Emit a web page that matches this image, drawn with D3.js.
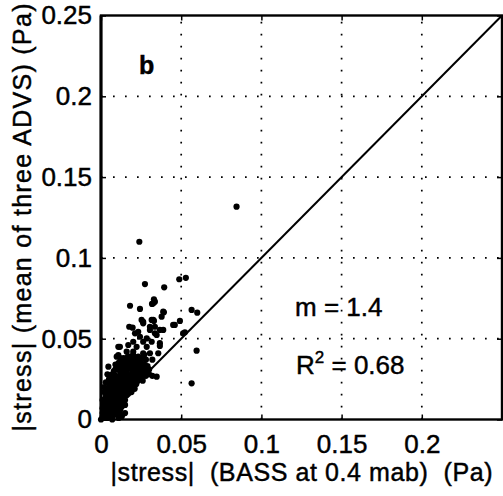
<!DOCTYPE html>
<html>
<head>
<meta charset="utf-8">
<script src="https://cdn.jsdelivr.net/npm/d3@7"></script>
<style>
  body { margin: 0; background: #fff; }
  svg { display: block; font-family: "Liberation Sans", Arial, sans-serif; }
  text { fill: #000; stroke: #000; stroke-width: 0.45px; }
</style>
</head>
<body>
<svg id="chart" width="503" height="496"></svg>
<script>
// tick values + labels
var xTicks = [0, 0.05, 0.1, 0.15, 0.2];
var xTickLabels = ["0", "0.05", "0.1", "0.15", "0.2"];
var yTicks = [0, 0.05, 0.1, 0.15, 0.2, 0.25];
var yTickLabels = ["0", "0.05", "0.1", "0.15", "0.2", "0.25"];
var gridValues = [0.05, 0.1, 0.15, 0.2];

// |stress| BASS (x) vs mean of three ADVs (y)
var outerPoints = [
  [0.0845, 0.1317], [0.0239, 0.110], [0.0488, 0.0868], [0.0529, 0.0877], [0.0274, 0.0838],
  [0.0394, 0.0818], [0.033, 0.0744], [0.0181, 0.0704], [0.0243, 0.0684], [0.0318, 0.0715],
  [0.0392, 0.0663], [0.0565, 0.0678], [0.060, 0.0661], [0.0263, 0.0605], [0.033, 0.061],
  [0.0492, 0.061], [0.046, 0.0585], [0.0367, 0.0554], [0.0197, 0.0568], [0.0523, 0.054],
  [0.0108, 0.045], [0.0596, 0.0426], [0.0046, 0.0327], [0.0565, 0.0224], [0.0098, 0.0389],
  [0.0347, 0.0265], [0.0336, 0.0729], [0.0326, 0.0719]
];
var midPoints = [
  [0.0253, 0.0616], [0.0263, 0.0595], [0.0316, 0.0616], [0.0176, 0.0574], [0.0232, 0.0543],
  [0.0212, 0.0533], [0.0305, 0.0554], [0.0336, 0.0533], [0.0243, 0.0512], [0.0285, 0.0502],
  [0.0201, 0.0481], [0.0263, 0.0481], [0.0316, 0.0481], [0.017, 0.0461], [0.0118, 0.045],
  [0.0222, 0.045], [0.0285, 0.045], [0.016, 0.042], [0.0201, 0.042], [0.0263, 0.041],
  [0.0108, 0.0399], [0.0305, 0.041], [0.017, 0.0389], [0.0232, 0.0389], [0.0388, 0.0667],
  [0.0378, 0.0636], [0.0326, 0.0616], [0.045, 0.0585], [0.0305, 0.0574], [0.0336, 0.0574],
  [0.0388, 0.0554], [0.0347, 0.0523], [0.0512, 0.0533], [0.0367, 0.0472], [0.0367, 0.0455],
  [0.0357, 0.041]
];
var clusterPoints = [
  [0.001, 0.002], [0.002, 0.004], [0.004, 0.001], [0.005, 0.003], [0.007, 0.002], [0.011, 0.001],
  [0.013, 0.002], [0.003, 0.006], [0.001, 0.007], [0.004, 0.005], [0.006, 0.006], [0.008, 0.005],
  [0.010, 0.007], [0.012, 0.006], [0.005, 0.008], [0.008, 0.009], [0.002, 0.010], [0.004, 0.011],
  [0.006, 0.010], [0.009, 0.012], [0.011, 0.010], [0.013, 0.011], [0.015, 0.009], [0.007, 0.013],
  [0.003, 0.014], [0.005, 0.016], [0.008, 0.015], [0.010, 0.014], [0.012, 0.016], [0.014, 0.013],
  [0.016, 0.015], [0.006, 0.018], [0.002, 0.017], [0.004, 0.019], [0.009, 0.018], [0.011, 0.019],
  [0.013, 0.018], [0.015, 0.020], [0.017, 0.019], [0.019, 0.017], [0.007, 0.021], [0.005, 0.022],
  [0.010, 0.022], [0.012, 0.024], [0.014, 0.022], [0.016, 0.023], [0.018, 0.021], [0.020, 0.023],
  [0.022, 0.022], [0.008, 0.024], [0.003, 0.023], [0.006, 0.026], [0.009, 0.027], [0.011, 0.026],
  [0.013, 0.028], [0.015, 0.026], [0.017, 0.027], [0.019, 0.025], [0.021, 0.027], [0.023, 0.025],
  [0.025, 0.026], [0.004, 0.028], [0.008, 0.030], [0.010, 0.031], [0.012, 0.029], [0.014, 0.031],
  [0.016, 0.030], [0.018, 0.032], [0.020, 0.029], [0.022, 0.031], [0.024, 0.030], [0.026, 0.029],
  [0.028, 0.027], [0.030, 0.028], [0.032, 0.027], [0.009, 0.034], [0.011, 0.035], [0.013, 0.033],
  [0.015, 0.035], [0.017, 0.034], [0.019, 0.036], [0.021, 0.034], [0.023, 0.033], [0.025, 0.035],
  [0.027, 0.034], [0.029, 0.033], [0.014, 0.038], [0.018, 0.037], [0.021, 0.038], [0.025, 0.038],
  [0.028, 0.037], [0.032, 0.037], [0.000, 0.000], [0.001, 0.012], [0.007, 0.000],
  [0.002, 0.001], [0.003, 0.003], [0.006, 0.004], [0.009, 0.003], [0.002, 0.008], [0.007, 0.007],
  [0.010, 0.009], [0.003, 0.012], [0.005, 0.013], [0.008, 0.011], [0.012, 0.013], [0.014, 0.016],
  [0.007, 0.016], [0.010, 0.017], [0.012, 0.021], [0.006, 0.020], [0.009, 0.020], [0.014, 0.019],
  [0.016, 0.018], [0.018, 0.024], [0.011, 0.024], [0.014, 0.025], [0.016, 0.028], [0.020, 0.026],
  [0.022, 0.028], [0.007, 0.028], [0.010, 0.033], [0.013, 0.036], [0.016, 0.032], [0.019, 0.031],
  [0.023, 0.036], [0.026, 0.032], [0.017, 0.039], [0.020, 0.040], [0.027, 0.040], [0.024, 0.028],
  [0.019, 0.021], [0.021, 0.019], [0.005, 0.025], [0.002, 0.020], [0.012, 0.003], [0.015, 0.004],
  [0.001, 0.004], [0.003, 0.009], [0.006, 0.012], [0.009, 0.015], [0.011, 0.013], [0.013, 0.015],
  [0.004, 0.017], [0.008, 0.019], [0.010, 0.025], [0.012, 0.027], [0.015, 0.029], [0.017, 0.025],
  [0.019, 0.028], [0.021, 0.030], [0.023, 0.030], [0.012, 0.032], [0.014, 0.034], [0.017, 0.036],
  [0.020, 0.033], [0.022, 0.035], [0.024, 0.033], [0.027, 0.031], [0.016, 0.038], [0.012, 0.038],
  [0.009, 0.031], [0.006, 0.023], [0.004, 0.009], [0.009, 0.006], [0.011, 0.004], [0.013, 0.008],
  [0.015, 0.012], [0.017, 0.016], [0.018, 0.019], [0.020, 0.021], [0.023, 0.024], [0.026, 0.024],
  [0.028, 0.030], [0.030, 0.031]
];
var fitSlope = "1.4";
var fitR2 = "0.68";

var svg = d3.select("#chart");
svg.append("rect").attr("width", 503).attr("height", 496).attr("fill", "#fff");

var x = d3.scaleLinear().domain([0, 0.25]).range([101, 502]);
var y = d3.scaleLinear().domain([0, 0.25]).range([419.5, 15.5]);

// dotted grid
var grid = svg.append("g")
    .attr("stroke", "#000")
    .attr("stroke-width", 1.7)
    .attr("stroke-dasharray", "1.7,10.3");
grid.selectAll("line.gx").data(gridValues).enter().append("line")
    .attr("x1", d => x(d)).attr("x2", d => x(d))
    .attr("y1", y(0)).attr("y2", y(0.25));
grid.selectAll("line.gy").data(gridValues).enter().append("line")
    .attr("x1", x(0)).attr("x2", x(0.25))
    .attr("y1", d => y(d)).attr("y2", d => y(d));

// 1:1 line
svg.append("line")
    .attr("x1", x(0)).attr("y1", y(0))
    .attr("x2", x(0.25)).attr("y2", y(0.25))
    .attr("stroke", "#000").attr("stroke-width", 2);

// scatter
var allPoints = outerPoints.concat(midPoints, clusterPoints);
svg.append("g").selectAll("circle").data(allPoints).enter().append("circle")
    .attr("cx", d => x(d[0]))
    .attr("cy", d => y(d[1]))
    .attr("r", 3.1)
    .attr("fill", "#000");

// axes (ticks point inward like matlab)
svg.append("g").attr("transform", "translate(0," + y(0) + ")")
    .call(d3.axisBottom(x).tickValues(xTicks).tickFormat((d, i) => xTickLabels[i])
        .tickSizeInner(-5).tickSizeOuter(0).tickPadding(15));
svg.append("g").attr("transform", "translate(" + x(0) + ",0)")
    .call(d3.axisLeft(y).tickValues(yTicks).tickFormat((d, i) => yTickLabels[i])
        .tickSizeInner(-5).tickSizeOuter(0).tickPadding(9));
svg.append("g").attr("transform", "translate(0," + y(0.25) + ")")
    .call(d3.axisTop(x).tickValues(xTicks).tickFormat("").tickSizeInner(-5).tickSizeOuter(0));
svg.append("g").attr("transform", "translate(" + x(0.25) + ",0)")
    .call(d3.axisRight(y).tickValues(yTicks).tickFormat("").tickSizeInner(-5).tickSizeOuter(0));

svg.selectAll(".domain").remove();
svg.selectAll(".tick line").attr("stroke", "#000").attr("stroke-width", 1.5);
svg.selectAll(".tick text")
    .attr("fill", "#000")
    .style("font-size", "26px")
    .style("font-family", "'Liberation Sans', Arial, sans-serif");

// box
svg.append("rect")
    .attr("x", x(0)).attr("y", y(0.25))
    .attr("width", x(0.25) - x(0)).attr("height", y(0) - y(0.25))
    .attr("fill", "none").attr("stroke", "#000").attr("stroke-width", 2.4);
svg.append("line")
    .attr("x1", x(0)).attr("x2", x(0)).attr("y1", y(0.25)).attr("y2", y(0))
    .attr("stroke", "#000").attr("stroke-width", 3);

// axis titles
svg.append("text")
    .attr("x", (x(0) + x(0.25)) / 2).attr("y", 481)
    .attr("text-anchor", "middle")
    .attr("textLength", 382).attr("lengthAdjust", "spacing")
    .style("font-size", "25px")
    .style("white-space", "pre")
    .text("|stress|  (BASS at 0.4 mab)  (Pa)");

svg.append("text")
    .attr("transform", "translate(31," + (y(0) + y(0.25)) / 2 + ") rotate(-90)")
    .attr("text-anchor", "middle")
    .attr("textLength", 428).attr("lengthAdjust", "spacing")
    .style("font-size", "25px")
    .text("|stress| (mean of three ADVS) (Pa)");

// panel letter + fit stats
svg.append("text").attr("x", 139).attr("y", 74)
    .style("font-size", "25px").style("font-weight", "bold").text("b");

svg.append("text").attr("x", 295).attr("y", 316)
    .style("font-size", "26px").text("m = " + fitSlope);

var r2 = svg.append("text").attr("x", 296).attr("y", 374).style("font-size", "26px");
r2.append("tspan").text("R");
r2.append("tspan").attr("dy", -11).style("font-size", "17px").text("2");
r2.append("tspan").attr("dy", 11).text(" = " + fitR2);
</script>
</body>
</html>
